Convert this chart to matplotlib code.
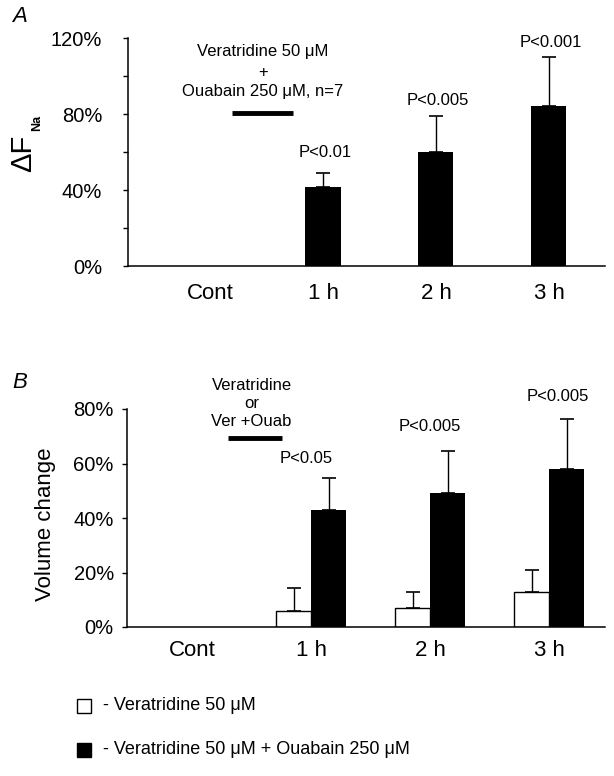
import matplotlib
matplotlib.use("Agg")
import matplotlib.pyplot as plt
import numpy as np

plt.rcParams['font.family'] = ['Liberation Sans', 'DejaVu Sans']

# data (percent)
groups = ["Cont", "1 h", "2 h", "3 h"]

# panel A: delta F_Na, Veratridine + Ouabain
a_mean = [0, 41.6, 60.0, 84.0]
a_err = [0, 7.6, 18.8, 26.0]
a_p = ["", "P<0.01", "P<0.005", "P<0.001"]
a_p_y = [0, 59.5, 87, 117.5]

# panel B: volume change
b_ver = [0, 6.0, 7.0, 13.0]
b_ver_err = [0, 8.2, 6.0, 8.0]
b_ouab = [0, 43.1, 49.0, 58.0]
b_ouab_err = [0, 11.6, 15.6, 18.3]
b_p = ["", "P<0.05", "P<0.005", "P<0.005"]
b_p_y = [0, 62, 73.5, 84.5]

W, H = 614, 776


def px(x, y):
    return x / W, 1 - y / H


def style_axis(ax):
    ax.spines['top'].set_visible(False)
    ax.spines['right'].set_visible(False)
    ax.spines['left'].set_linewidth(1.1)
    ax.spines['bottom'].set_linewidth(1.1)
    ax.tick_params(axis='y', which='both', direction='out', length=3.5,
                   width=1, labelsize=14.5)
    ax.tick_params(axis='x', length=0, labelsize=16)


fig = plt.figure(figsize=(W / 100, H / 100), dpi=100)

# ---- panel A ----
axA = fig.add_axes([128 / W, 1 - 266 / H, 477 / W, 228 / H])
x = np.arange(len(groups))
axA.bar(x[1:], a_mean[1:], width=0.31, color='black')
axA.errorbar(x[1:], a_mean[1:], yerr=[np.zeros(3), a_err[1:]], fmt='none',
             ecolor='black', elinewidth=1, capsize=5, capthick=1.2)
axA.set_xlim(-0.726, 3.496)
axA.set_ylim(0, 120)
axA.set_yticks([0, 40, 80, 120], ["0%", "40%", "80%", "120%"])
axA.set_yticks([20, 60, 100], minor=True)
axA.set_xticks(x, groups)
style_axis(axA)
axA.tick_params(axis='y', pad=15)
axA.tick_params(axis='x', pad=12)

for i in range(1, 4):
    axA.text(x[i] + 0.02, a_p_y[i], a_p[i], ha='center', va='center', fontsize=12)

axA.text(0.47, 113, "Veratridine 50 μM", ha='center', va='center', fontsize=12)
axA.text(0.47, 102, "+", ha='center', va='center', fontsize=12)
axA.text(0.47, 92, "Ouabain 250 μM, n=7", ha='center', va='center', fontsize=12)
axA.plot([0.195, 0.735], [80.5, 80.5], color='black', lw=3.5, solid_capstyle='butt')

# ---- panel B ----
axB = fig.add_axes([127 / W, 1 - 627 / H, 478 / W, 218 / H])
bw = 0.294
axB.bar(x[1:] - bw / 2, b_ver[1:], width=bw, color='white', edgecolor='black',
        linewidth=1)
axB.bar(x[1:] + bw / 2, b_ouab[1:], width=bw, color='black')
axB.errorbar(x[1:] - bw / 2, b_ver[1:], yerr=[np.zeros(3), b_ver_err[1:]],
             fmt='none', ecolor='black', elinewidth=1, capsize=5, capthick=1.2)
axB.errorbar(x[1:] + bw / 2, b_ouab[1:], yerr=[np.zeros(3), b_ouab_err[1:]],
             fmt='none', ecolor='black', elinewidth=1, capsize=5, capthick=1.2)
axB.set_xlim(-0.546, 3.47)
axB.set_ylim(0, 80)
axB.set_yticks([0, 20, 40, 60, 80], ["0%", "20%", "40%", "60%", "80%"])
axB.set_xticks(x, groups)
style_axis(axB)
axB.tick_params(axis='y', pad=6)
axB.tick_params(axis='x', pad=9)

b_p_x = [0, 0.96, 2.0, 3.07]
for i in range(1, 4):
    axB.text(b_p_x[i], b_p_y[i], b_p[i], ha='center', va='center', fontsize=12)

axB.text(0.5, 88.5, "Veratridine", ha='center', va='center', fontsize=12)
axB.text(0.5, 82, "or", ha='center', va='center', fontsize=12)
axB.text(0.5, 75.5, "Ver +Ouab", ha='center', va='center', fontsize=12)
axB.plot([0.3, 0.755], [69.5, 69.5], color='black', lw=3.5, solid_capstyle='butt',
         clip_on=False)

# ---- labels ----
fig.text(*px(20, 17), "A", fontsize=16, style='italic', ha='center', va='center')
fig.text(*px(20, 382), "B", fontsize=16, style='italic', ha='center', va='center')

fig.text(*px(23, 153), "ΔF", fontsize=21, rotation=90, ha='center', va='center')
fig.text(*px(37, 123), "Na", fontsize=9, fontweight='bold', rotation=90,
         ha='center', va='center')
fig.text(*px(46, 524), "Volume change", fontsize=16, rotation=90,
         ha='center', va='center')

# ---- legend ----
fig.patches.append(plt.Rectangle(px(77, 713), 14 / W, 14 / H, facecolor='white',
                                 edgecolor='black', lw=1, transform=fig.transFigure))
fig.patches.append(plt.Rectangle(px(77, 757), 14 / W, 14 / H, facecolor='black',
                                 edgecolor='black', lw=1, transform=fig.transFigure))
fig.text(*px(103, 706), "- Veratridine 50 μM", fontsize=13, va='center')
fig.text(*px(103, 750), "- Veratridine 50 μM + Ouabain 250 μM", fontsize=13,
         va='center')

fig.savefig("out.png", dpi=100)
